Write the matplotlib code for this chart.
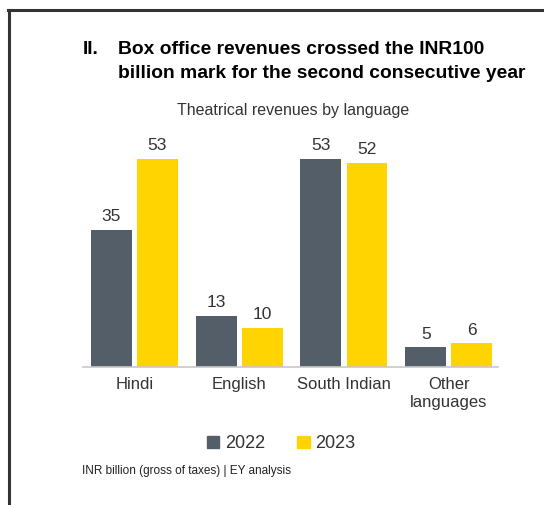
import matplotlib
matplotlib.use("Agg")
import matplotlib.pyplot as plt
import numpy as np
from matplotlib.patches import Rectangle
from matplotlib.lines import Line2D

categories = ["Hindi", "English", "South Indian", "Other\nlanguages"]
years = ["2022", "2023"]
values_2022 = [35, 13, 53, 5]
values_2023 = [53, 10, 52, 6]

C22 = "#535e69"
C23 = "#ffd400"
TXT = "#333333"

W, H = 544, 505
fig = plt.figure(figsize=(W / 100, H / 100), dpi=100)
fig.patch.set_facecolor("white")

def fx(px):
    return px / W

def fy(py):
    return 1 - py / H

# frame lines (top and left)
fig.add_artist(Line2D([fx(8), fx(544)], [fy(10), fy(10)], color="#333333", lw=2.2))
fig.add_artist(Line2D([fx(9), fx(9)], [fy(10), fy(505)], color="#333333", lw=2.2))

# axes
ymax = 60
ax = fig.add_axes([fx(83), fy(367), fx(498) - fx(83), ymax * 3.925 / H])
x = np.arange(len(categories))
bw = 0.39
off = 0.22
b1 = ax.bar(x - off, values_2022, bw, color=C22, label=years[0])
b2 = ax.bar(x + off, values_2023, bw, color=C23, label=years[1])
ax.set_xlim(-0.49, 3.47)
ax.set_ylim(0, ymax)
for bars in (b1, b2):
    ax.bar_label(bars, padding=4, fontsize=12.5, color=TXT, family="Liberation Sans")
for s in ["top", "right", "left"]:
    ax.spines[s].set_visible(False)
ax.spines["bottom"].set_color("#c8c8c8")
ax.spines["bottom"].set_linewidth(1.2)
ax.set_yticks([])
ax.set_xticks(x)
ax.set_xticklabels(categories, fontsize=12, color=TXT, family="Liberation Sans", linespacing=1.3)
ax.tick_params(axis="x", length=0, pad=7)

# title
TFS = 13.9
fig.text(fx(83), fy(54), "II.", fontsize=TFS, fontweight="bold", color="black", family="Liberation Sans")
fig.text(fx(118), fy(54), "Box office revenues crossed the INR100", fontsize=TFS, fontweight="bold", color="black", family="Liberation Sans")
fig.text(fx(118), fy(78), "billion mark for the second consecutive year", fontsize=TFS, fontweight="bold", color="black", family="Liberation Sans")

fig.text(fx(293), fy(111), "Theatrical revenues by language", fontsize=11.5, color=TXT, family="Liberation Sans", ha="center", va="center")

# legend
handles = [Rectangle((0, 0), 1, 1, color=C22), Rectangle((0, 0), 1, 1, color=C23)]
fig.legend(handles, years, loc="center", bbox_to_anchor=(fx(281), fy(444)), ncol=2, frameon=False,
           prop={"family": "Liberation Sans", "size": 13}, handlelength=0.68, handleheight=0.68,
           handletextpad=0.3, columnspacing=1.8, labelcolor=TXT)

fig.text(fx(82), fy(471), "INR billion (gross of taxes) | EY analysis", fontsize=8.5, color="#222222",
         family="Liberation Sans", va="center")

fig.savefig("out.png", dpi=100)
